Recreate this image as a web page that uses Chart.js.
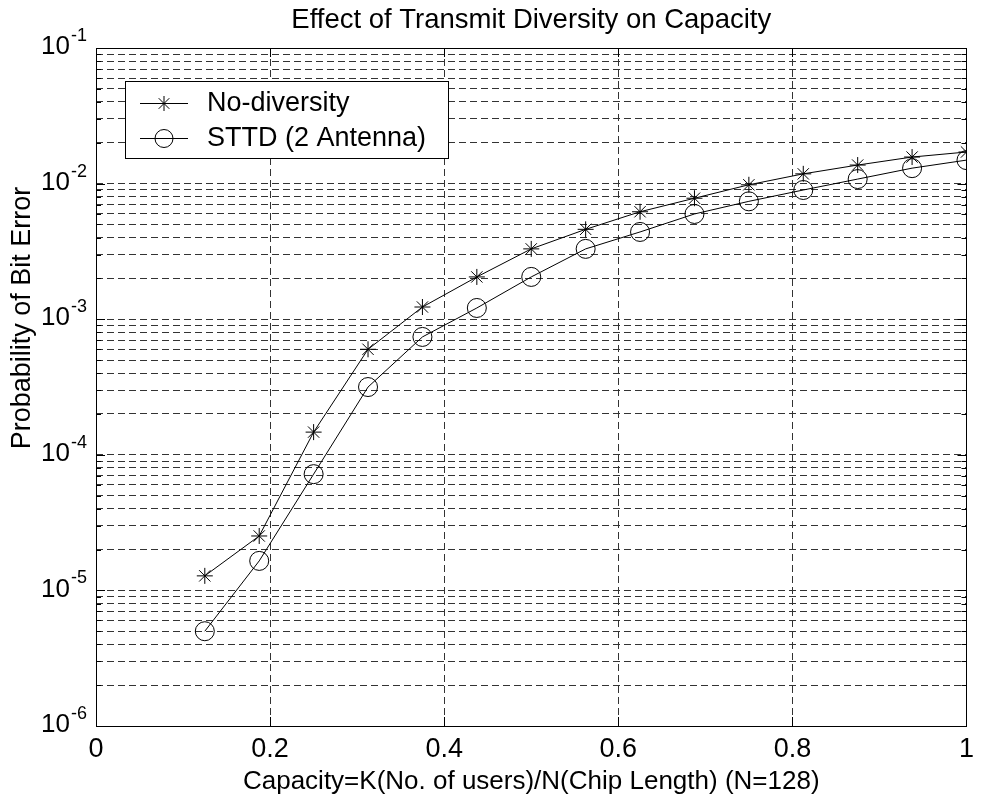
<!DOCTYPE html>
<html><head><meta charset="utf-8">
<script src="https://cdn.jsdelivr.net/npm/chart.js@4.4.1/dist/chart.umd.min.js"></script>
<style>html,body{margin:0;padding:0;background:#fff;}canvas{display:block;}</style>
</head><body>
<canvas id="c" width="981" height="799"></canvas>
<script>
// ---- data ----
const capacity = [0.125, 0.1875, 0.25, 0.3125, 0.375, 0.4375, 0.5, 0.5625, 0.625, 0.6875, 0.75, 0.8125, 0.875, 0.9375, 1.0];
const noDiversity = [1.28e-5, 2.52e-5, 1.47e-4, 6.0e-4, 1.23e-3, 2.05e-3, 3.3e-3, 4.6e-3, 6.2e-3, 7.8e-3, 9.8e-3, 1.18e-2, 1.37e-2, 1.57e-2, 1.71e-2];
const sttd = [5.0e-6, 1.65e-5, 7.2e-5, 3.16e-4, 7.4e-4, 1.21e-3, 2.05e-3, 3.3e-3, 4.4e-3, 5.97e-3, 7.4e-3, 8.97e-3, 1.08e-2, 1.30e-2, 1.49e-2];
const seriesLabels = ['No-diversity', 'STTD (2 Antenna)'];
const xTicks = [0, 0.2, 0.4, 0.6, 0.8, 1];
const xTickLabels = ['0', '0.2', '0.4', '0.6', '0.8', '1'];
const yDecades = [1e-6, 1e-5, 1e-4, 1e-3, 1e-2, 1e-1];
const yExponents = ['-6', '-5', '-4', '-3', '-2', '-1'];
const yMinorMultipliers = [2, 3, 4, 5, 6, 7, 8, 9];
const titleText = 'Effect of Transmit Diversity on Capacity';
const xTitle = 'Capacity=K(No. of users)/N(Chip Length) (N=128)';
const yTitle = 'Probability of Bit Error';

const FONT = '"Liberation Sans", Arial, Helvetica, sans-serif';
const GRID = '#333';
const DASH = [7, 4];

function drawStar(ctx, x, y, r) {
  ctx.beginPath();
  ctx.moveTo(x - r, y); ctx.lineTo(x + r, y);
  ctx.moveTo(x, y - r); ctx.lineTo(x, y + r);
  const d = r * Math.SQRT1_2;
  ctx.moveTo(x - d, y - d); ctx.lineTo(x + d, y + d);
  ctx.moveTo(x - d, y + d); ctx.lineTo(x + d, y - d);
  ctx.stroke();
}
function drawCircle(ctx, x, y, r) {
  ctx.beginPath(); ctx.arc(x, y, r, 0, Math.PI * 2); ctx.stroke();
}

const decorPlugin = {
  id: 'decor',
  afterDraw(chart) {
    const ctx = chart.ctx, ca = chart.chartArea;
    const xs = chart.scales.x, ys = chart.scales.y;
    ctx.save();
    ctx.setLineDash([]);
    ctx.strokeStyle = '#000';
    ctx.lineWidth = 1;
    // inner tick marks
    ctx.beginPath();
    xTicks.forEach(v => {
      const px = Math.round(xs.getPixelForValue(v)) + 0.5;
      ctx.moveTo(px, ca.bottom); ctx.lineTo(px, ca.bottom - 9);
      ctx.moveTo(px, ca.top); ctx.lineTo(px, ca.top + 9);
    });
    yDecades.forEach((d, i) => {
      const py = Math.round(ys.getPixelForValue(d)) + 0.5;
      ctx.moveTo(ca.left, py); ctx.lineTo(ca.left + 9, py);
      ctx.moveTo(ca.right, py); ctx.lineTo(ca.right - 9, py);
      if (i < yDecades.length - 1) {
        yMinorMultipliers.forEach(m => {
          const pm = Math.round(ys.getPixelForValue(d * m)) + 0.5;
          ctx.moveTo(ca.left, pm); ctx.lineTo(ca.left + 5, pm);
          ctx.moveTo(ca.right, pm); ctx.lineTo(ca.right - 5, pm);
        });
      }
    });
    ctx.stroke();
    // frame
    ctx.strokeRect(Math.round(ca.left) + 0.5, Math.round(ca.top) + 0.5, Math.round(ca.right - ca.left), Math.round(ca.bottom - ca.top));
    // y tick labels with superscripts
    ctx.fillStyle = '#000';
    yDecades.forEach((d, i) => {
      const py = ys.getPixelForValue(d);
      ctx.font = '26px ' + FONT;
      ctx.textAlign = 'right'; ctx.textBaseline = 'middle';
      ctx.fillText('10', ca.left - 26, py - 1);
      ctx.font = '18px ' + FONT;
      ctx.textAlign = 'left';
      ctx.fillText(yExponents[i], ca.left - 25, py - 12);
    });
    // y axis title
    ctx.save();
    ctx.translate(23, ca.top + 270);
    ctx.rotate(-Math.PI / 2);
    ctx.font = '27px ' + FONT;
    ctx.textAlign = 'center'; ctx.textBaseline = 'middle';
    ctx.fillText(yTitle, 0, 0);
    ctx.restore();
    // title
    ctx.font = '27.5px ' + FONT;
    ctx.textAlign = 'center'; ctx.textBaseline = 'middle';
    ctx.fillText(titleText, (ca.left + ca.right) / 2, ca.top - 27.5);
    // legend
    const lx = ca.left + 29, ly = ca.top + 33, lw = 323, lh = 77;
    ctx.fillStyle = '#fff';
    ctx.fillRect(lx, ly, lw, lh);
    ctx.strokeStyle = '#000';
    ctx.strokeRect(lx + 0.5, ly + 0.5, lw, lh);
    const rows = [ly + 22, ly + 57];
    rows.forEach((ry, i) => {
      ctx.beginPath();
      ctx.moveTo(lx + 15, ry + 0.5); ctx.lineTo(lx + 63, ry + 0.5);
      ctx.stroke();
      if (i === 0) drawStar(ctx, lx + 39, ry + 0.5, 7.5);
      else drawCircle(ctx, lx + 39, ry + 0.5, 9);
      ctx.fillStyle = '#000';
      ctx.font = '27px ' + FONT;
      ctx.textAlign = 'left'; ctx.textBaseline = 'middle';
      ctx.fillText(seriesLabels[i], lx + 82, ry + 1);
    });
    ctx.restore();
  }
};

new Chart(document.getElementById('c'), {
  type: 'line',
  data: {
    datasets: [
      {
        label: seriesLabels[0],
        data: capacity.map((x, i) => ({ x: x, y: noDiversity[i] })),
        borderColor: '#000', borderWidth: 1, backgroundColor: 'rgba(0,0,0,0)',
        pointStyle: 'star', pointRadius: 8, pointBorderColor: '#000', pointBorderWidth: 1,
        pointBackgroundColor: 'rgba(0,0,0,0)', tension: 0, fill: false
      },
      {
        label: seriesLabels[1],
        data: capacity.map((x, i) => ({ x: x, y: sttd[i] })),
        borderColor: '#000', borderWidth: 1, backgroundColor: 'rgba(0,0,0,0)',
        pointStyle: 'circle', pointRadius: 9.5, pointBorderColor: '#000', pointBorderWidth: 1,
        pointBackgroundColor: 'rgba(0,0,0,0)', tension: 0, fill: false
      }
    ]
  },
  options: {
    responsive: false,
    animation: false,
    devicePixelRatio: 1,
    layout: { padding: { top: 48, right: 7, left: 0, bottom: 0 } },
    plugins: { legend: { display: false }, title: { display: false }, tooltip: { enabled: false } },
    scales: {
      x: {
        type: 'linear', min: 0, max: 1,
        afterBuildTicks: s => { s.ticks = xTicks.map(v => ({ value: v })); },
        afterFit: s => { s.height = 73; },
        ticks: {
          autoSkip: false, maxRotation: 0, padding: 7, color: '#000',
          font: { family: FONT, size: 27 },
          callback: v => xTickLabels[xTicks.indexOf(v)]
        },
        grid: { color: GRID, lineWidth: 1, drawTicks: false },
        border: { display: false, dash: DASH },
        title: { display: true, text: xTitle, color: '#000', font: { family: FONT, size: 26 }, padding: { top: 0, bottom: 2 } }
      },
      y: {
        type: 'logarithmic', min: 1e-6, max: 1e-1,
        afterBuildTicks: s => {
          const t = [];
          yDecades.forEach((d, i) => {
            t.push({ value: d, major: true });
            if (i < yDecades.length - 1) yMinorMultipliers.forEach(m => t.push({ value: d * m }));
          });
          s.ticks = t;
        },
        afterFit: s => { s.width = 96; },
        ticks: { display: false, autoSkip: false },
        grid: { color: GRID, lineWidth: 1, drawTicks: false },
        border: { display: false, dash: DASH },
        title: { display: false }
      }
    }
  },
  plugins: [decorPlugin]
});
</script>
</body></html>
